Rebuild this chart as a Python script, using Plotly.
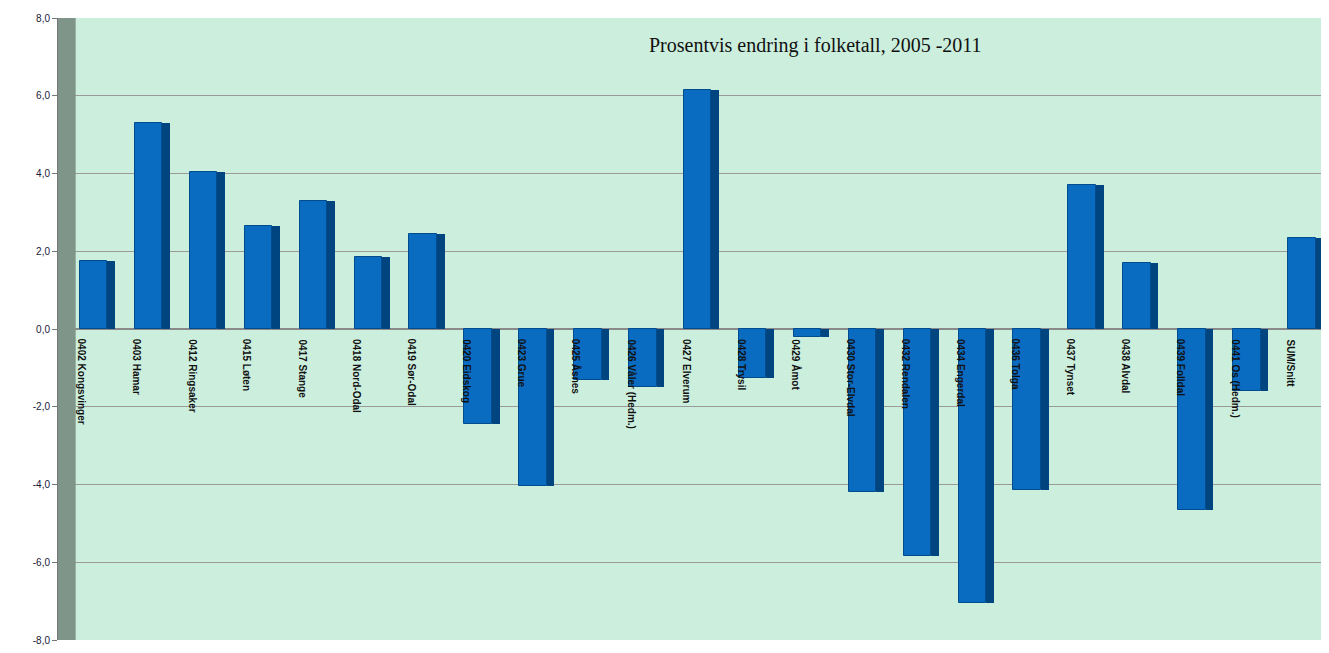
import plotly.graph_objects as go

categories = ["0402 Kongsvinger", "0403 Hamar", "0412 Ringsaker", "0415 Løten", "0417 Stange",
              "0418 Nord-Odal", "0419 Sør-Odal", "0420 Eidskog", "0423 Grue", "0425 Åsnes",
              "0426 Våler (Hedm.)", "0427 Elverum", "0428 Trysil", "0429 Åmot", "0430 Stor-Elvdal",
              "0432 Rendalen", "0434 Engerdal", "0436 Tolga", "0437 Tynset", "0438 Alvdal",
              "0439 Folldal", "0441 Os (Hedm.)", "SUM/Snitt"]
values = [1.75, 5.3, 4.05, 2.65, 3.3, 1.85, 2.45, -2.45, -4.05, -1.3, -1.5, 6.15, -1.25, -0.2,
          -4.2, -5.85, -7.05, -4.15, 3.7, 1.7, -4.65, -1.6, 2.35]
tick_vals = [8, 6, 4, 2, 0, -2, -4, -6, -8]
tick_text = ["8,0", "6,0", "4,0", "2,0", "0,0", "-2,0", "-4,0", "-6,0", "-8,0"]
title = "Prosentvis endring i folketall, 2005 -2011"

fig = go.Figure()
fig.add_trace(go.Bar(x=categories, y=values, width=0.5, offset=-0.1,
                     marker=dict(color="#0A6CC0", line=dict(color="#004C8C", width=1)),
                     showlegend=False))
fig.add_trace(go.Bar(x=categories, y=values, width=0.14, offset=0.4,
                     marker=dict(color="#00457F", line=dict(width=0)),
                     showlegend=False))

for c in categories:
    fig.add_annotation(x=c, y=0, xref="x", yref="y", text="<b>" + c + "</b>", textangle=90,
                       showarrow=False, yanchor="top", xanchor="center", yshift=-8, xshift=-3,
                       font=dict(family="Liberation Sans Narrow, Liberation Sans, Arial", size=10,
                                 color="#111111"))

fig.add_annotation(x=0.6, y=1.0, xref="paper", yref="paper", yanchor="top", yshift=-14,
                   text=title, showarrow=False,
                   font=dict(family="Liberation Serif, DejaVu Serif", size=20, color="#111111"))

# left side wall
fig.add_shape(type="rect", xref="paper", yref="paper", x0=0, x1=0.014, y0=0, y1=1,
              fillcolor="#7F958A", line=dict(width=0), layer="above")

fig.update_layout(
    width=1329, height=653,
    margin=dict(l=58, r=8, t=18, b=7),
    paper_bgcolor="white",
    plot_bgcolor="#CCEEDD",
    barmode="overlay",
    bargap=0,
    xaxis=dict(showticklabels=False, showgrid=False, zeroline=False, showline=False,
               range=[-0.5, len(categories) - 0.5]),
    yaxis=dict(range=[-8, 8], tickvals=tick_vals, ticktext=tick_text,
               gridcolor="#9A9A9A", gridwidth=1, zeroline=True, zerolinecolor="#8A8A8A",
               zerolinewidth=2, showline=True, linecolor="#777777", ticks="outside",
               ticklen=5, tickcolor="#777777",
               tickfont=dict(family="Liberation Sans, Arial", size=10, color="#1A1A3A")),
)

fig.write_html("out.html", config={"displayModeBar": False})
with open("out.html", encoding="utf-8") as f:
    html = f.read()
html = html.replace("<head>", "<head><style>html,body{margin:0;padding:0;overflow:hidden}</style>", 1)
with open("out.html", "w", encoding="utf-8") as f:
    f.write(html)
